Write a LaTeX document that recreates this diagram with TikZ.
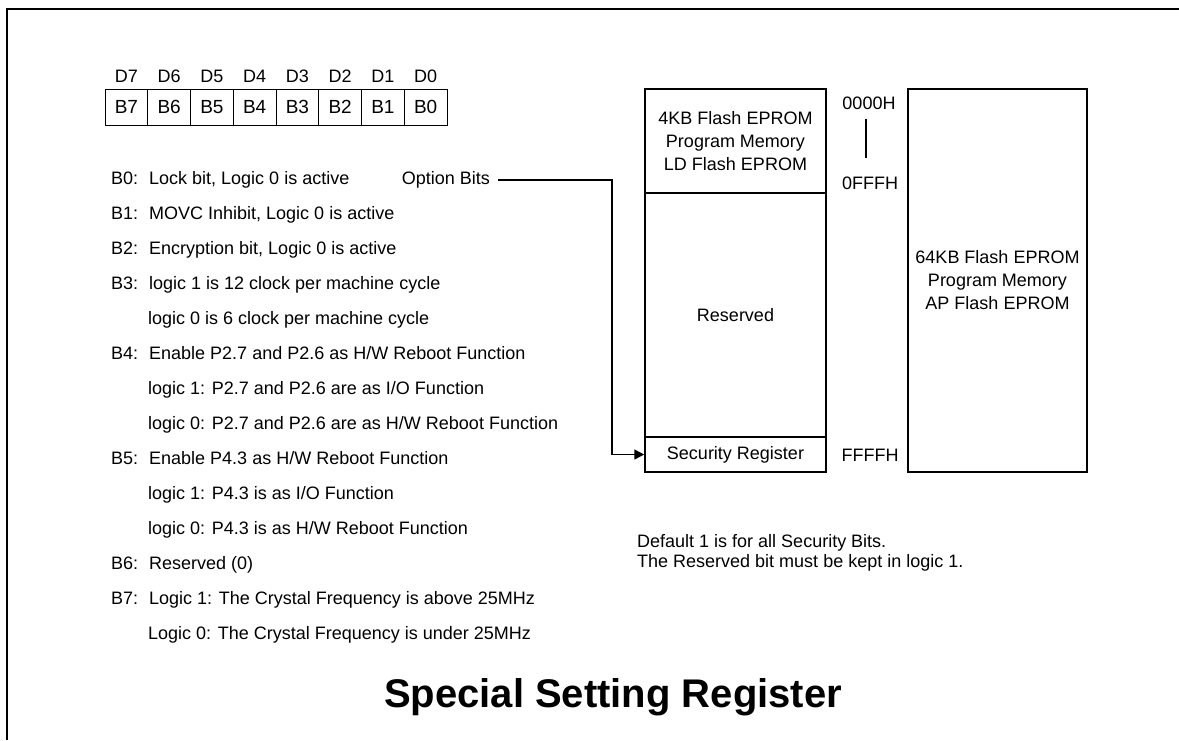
\documentclass[tikz,border=0pt]{standalone}
\usepackage{fontspec}
\setmainfont{Liberation Sans}
\usetikzlibrary{arrows.meta}
\begin{document}
\begin{tikzpicture}[x=1pt,y=-1pt,
  txt/.style={anchor=base west,inner sep=0pt,font=\fontsize{18}{22}\selectfont},
  cell/.style={draw,line width=1pt,minimum width=42.75pt,minimum height=36pt,inner sep=0pt,font=\fontsize{19}{22}\selectfont},
  mem/.style={draw,line width=1.5pt,minimum width=181pt,inner sep=0pt,align=center,font=\fontsize{18}{23}\selectfont},
  addr/.style={inner sep=0pt,font=\fontsize{18}{22}\selectfont},
  arr/.style={line width=1.5pt,-{Triangle[length=10pt,width=10pt]}}]
\useasboundingbox (0,0) rectangle (1179,740);
\draw[line width=2pt] (7,740) -- (7,9) -- (1179,9);

% bit register
\foreach \i [evaluate=\i as \b using int(7-\i)] in {0,...,7} {
  \node[cell] (c\b) at ({105+42.75*(\i+0.5)},107) {B\b};
  \node[addr] (d\b) at ({105+42.75*(\i+0.5)},76) {D\b};
}

% bit descriptions
\node[txt] (k0) at (111,184.5) {B0:};
\node[txt] (t0) at (149,184.5) {Lock bit, Logic 0 is active};
\node[txt] (k1) at (111,219.5) {B1:};
\node[txt] (t1) at (149,219.5) {MOVC Inhibit, Logic 0 is active};
\node[txt] (k2) at (111,254.5) {B2:};
\node[txt] (t2) at (149,254.5) {Encryption bit, Logic 0 is active};
\node[txt] (k3) at (111,289.5) {B3:};
\node[txt] (t3) at (149,289.5) {logic 1 is 12 clock per machine cycle};
\node[txt] (t3b) at (148,324.5) {logic 0 is 6 clock per machine cycle};
\node[txt] (k4) at (111,359.5) {B4:};
\node[txt] (t4) at (149,359.5) {Enable P2.7 and P2.6 as H/W Reboot Function};
\node[txt] (t4b) at (148,394.5) {logic 1: P2.7 and P2.6 are as I/O Function};
\node[txt] (t4c) at (148,429.5) {logic 0: P2.7 and P2.6 are as H/W Reboot Function};
\node[txt] (k5) at (111,464.5) {B5:};
\node[txt] (t5) at (149,464.5) {Enable P4.3 as H/W Reboot Function};
\node[txt] (t5b) at (148,499.5) {logic 1: P4.3 is as I/O Function};
\node[txt] (t5c) at (148,534.5) {logic 0: P4.3 is as H/W Reboot Function};
\node[txt] (k6) at (111,569.5) {B6:};
\node[txt] (t6) at (149,569.5) {Reserved (0)};
\node[txt] (k7) at (111,604.5) {B7:};
\node[txt] (t7) at (149,604.5) {Logic 1: The Crystal Frequency is above 25MHz};
\node[txt] (t7b) at (148,639.5) {Logic 0: The Crystal Frequency is under 25MHz};

% memory map
\node[mem,minimum height=104pt] (ld) at (735.5,141) {4KB Flash EPROM\\Program Memory\\LD Flash EPROM};
\node[mem,minimum height=244pt] (res) at (735.5,315) {Reserved};
\node[mem,minimum height=35pt] (sec) at (735.5,454.5) {Security Register};
\node[mem,minimum width=179pt,minimum height=383pt] (ap) at (997.5,280.5) {64KB Flash EPROM\\Program Memory\\AP Flash EPROM};

\node[addr] (a0) at (869,103) {0000H};
\node[addr] (a1) at (870,183) {0FFFH};
\node[addr] (a2) at (870,455) {FFFFH};
\draw[line width=1.5pt] ([xshift=-3pt,yshift=-9.5pt]a0.south) -- ([xshift=-4pt,yshift=18.5pt]a1.north);

% option bits arrow
\node[txt,anchor=base east] (opt) at (490,184.5) {Option Bits};
\draw[arr] ([xshift=8pt]opt.east) -| (612,454.5) -- (sec.west);

% notes
\node[txt] (n1) at (637,547.5) {Default 1 is for all Security Bits.};
\node[txt] (n2) at (637,567.5) {The Reserved bit must be kept in logic 1.};

% title
\node[inner sep=0pt,font=\bfseries\fontsize{40}{48}\selectfont] (title) at (613,697) {Special Setting Register};
\end{tikzpicture}
\end{document}
